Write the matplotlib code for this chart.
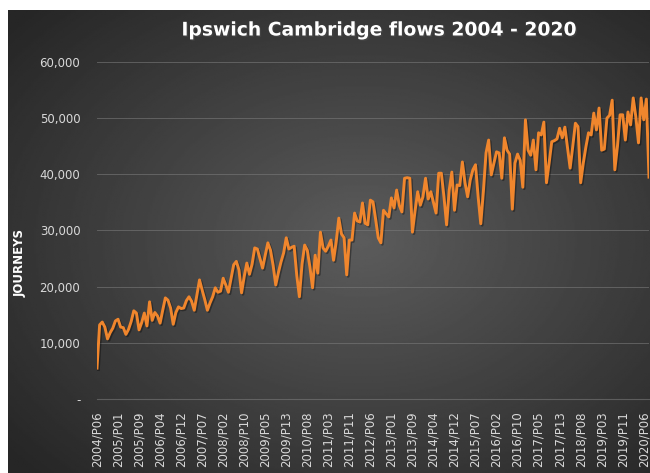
import numpy as np
import matplotlib.pyplot as plt
import matplotlib.patheffects as pe
from matplotlib.ticker import FuncFormatter

# four-weekly journeys, 2004/P06 onwards (13 periods a year)
journeys = [
    5500, 13200, 13700, 12800, 10700, 11800, 12600, 13900,                        # 2004 P06-P13
    14200, 12800, 12700, 11500, 12400, 13800, 15700, 15300, 12300, 13600, 15300, 13000, 17300,  # 2005
    14000, 15400, 14800, 13500, 15800, 18000, 17600, 16200, 13300, 15400, 16400, 16100, 16200,  # 2006
    17500, 18200, 17400, 15800, 18500, 21200, 19400, 17700, 15800, 17100, 18200, 19800, 19000,  # 2007
    19200, 21500, 20300, 19000, 21500, 23900, 24500, 23000, 18900, 21800, 24200, 22200, 24000,  # 2008
    26900, 26700, 25000, 23300, 25600, 27800, 26500, 23800, 20300, 22500, 24400, 26000, 28700,  # 2009
    26700, 27000, 27200, 22000, 18200, 24000, 27400, 26500, 23500, 19800, 25600, 22400, 29700,  # 2010
    26900, 26300, 27200, 28300, 24700, 28000, 32200, 29400, 28700, 22100, 28300, 28300, 33100,  # 2011
    31700, 31500, 34900, 31300, 31000, 35400, 35100, 32000, 28700, 27800, 33600, 33000, 32400,  # 2012
    35800, 34000, 37200, 34500, 33300, 39300, 39400, 39300, 29700, 33500, 36900, 34500, 36000,  # 2013
    39300, 35600, 36900, 35000, 33100, 40200, 40200, 36000, 31000, 37200, 40400, 33600, 38100,  # 2014
    38000, 42200, 38500, 36000, 39000, 40800, 41700, 36000, 31200, 37000, 43800, 46100, 39900,  # 2015
    42000, 44000, 43800, 39300, 46500, 44300, 43600, 33800, 42000, 43600, 42500, 37700, 49700,  # 2016
    44300, 43400, 46100, 40800, 47400, 47000, 49300, 38500, 42000, 45800, 46000, 46300, 48200,  # 2017
    46500, 48400, 44700, 41100, 45000, 49100, 48500, 38500, 42000, 44900, 47400, 47000, 50900,  # 2018
    47900, 51800, 44300, 44500, 50000, 50500, 53200, 40800, 45000, 50600, 50600, 46100, 51100,  # 2019
    48800, 53600, 50200, 45600, 53600, 49700, 53400, 39500,                        # 2020 P01-P08
]

tick_labels = [
    "2004/P06", "2005/P01", "2005/P09", "2006/P04", "2006/P12", "2007/P07",
    "2008/P02", "2008/P10", "2009/P05", "2009/P13", "2010/P08", "2011/P03",
    "2011/P11", "2012/P06", "2013/P01", "2013/P09", "2014/P04", "2014/P12",
    "2015/P07", "2016/P02", "2016/P10", "2017/P05", "2017/P13", "2018/P08",
    "2019/P03", "2019/P11", "2020/P06",
]
tick_step = 8

fig = plt.figure(figsize=(6.5, 4.73), dpi=100)
fig.patch.set_facecolor("white")

# radial grey gradient background
bg = fig.add_axes([8 / 650, 0, 642 / 650, 463 / 473])
yy, xx = np.mgrid[0:1:300j, 0:1:400j]
r = np.sqrt(((xx - 0.55) / 0.75) ** 2 + ((yy - 0.5) / 0.75) ** 2)
shade = np.clip(0.36 - 0.22 * r, 0.15, 0.36)
bg.imshow(shade, cmap="gray", vmin=0, vmax=1, aspect="auto", extent=[0, 1, 0, 1])
bg.axis("off")

ax = fig.add_axes([97 / 650, 1 - 399 / 473, 552 / 650, 337 / 473])
ax.patch.set_alpha(0)

x = np.arange(len(journeys))
ax.plot(x, journeys, color="#f0862d", lw=2.1, solid_joinstyle="round",
        path_effects=[pe.SimpleLineShadow(offset=(1, -1), shadow_color="black", alpha=0.35),
                      pe.Normal()])

ax.set_xlim(0, len(journeys) - 1)
ax.set_ylim(0, 60000)
ax.set_yticks(range(0, 60001, 10000))
ax.yaxis.set_major_formatter(FuncFormatter(lambda v, p: "-" if v == 0 else f"{int(v):,}"))
ax.set_xticks(range(0, tick_step * len(tick_labels), tick_step))
ax.set_xticklabels(tick_labels, rotation=90)

ax.grid(axis="y", color="#7a7a7a", lw=0.7, alpha=0.6)
ax.tick_params(colors="#d9d9d9", labelsize=8.5, length=0)
ax.tick_params(axis="x", pad=9)
ax.tick_params(axis="y", pad=12)
for s in ["top", "right", "left"]:
    ax.spines[s].set_visible(False)
ax.spines["bottom"].set_color("#7a7a7a")
ax.spines["bottom"].set_alpha(0.6)

fig.text(379 / 650, 1 - 30 / 473, "Ipswich Cambridge flows 2004 - 2020", color="white",
         fontsize=13.5, fontweight="bold", ha="center", va="center",
         path_effects=[pe.withSimplePatchShadow(offset=(1, -1), alpha=0.5)])
fig.text(20 / 650, 1 - 263 / 473, "JOURNEYS", color="white", fontsize=8.5,
         fontweight="bold", rotation=90, ha="center", va="center")

fig.savefig("out.png", dpi=100)
